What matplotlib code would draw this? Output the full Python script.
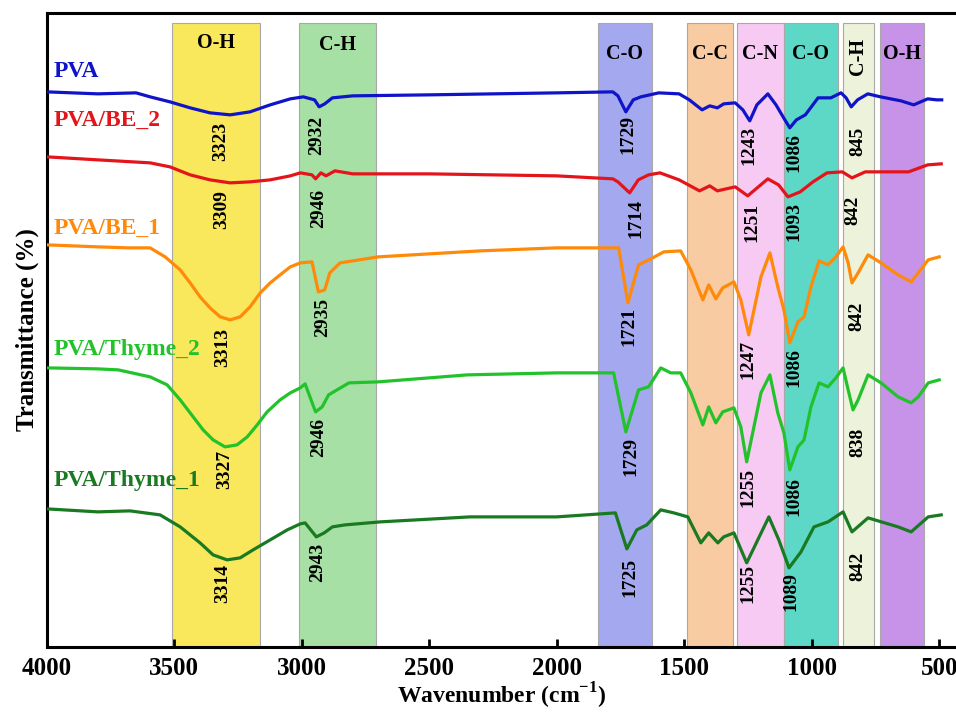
import numpy as np
import matplotlib
matplotlib.use("Agg")
import matplotlib.pyplot as plt

plt.rcParams['font.family'] = ['Liberation Serif', 'DejaVu Serif']
plt.rcParams['font.weight'] = 'bold'
plt.rcParams['mathtext.fontset'] = 'custom'
plt.rcParams['mathtext.rm'] = 'Liberation Serif:bold'
plt.rcParams['mathtext.bf'] = 'Liberation Serif:bold'

# FTIR spectra (wavenumber in cm-1, offset transmittance in a.u.)
pva_wn = [4000, 3800, 3650, 3595, 3517, 3438, 3360, 3281, 3203, 3124, 3045, 2994, 2950, 2932,
          2910, 2880, 2800, 2500, 2000, 1780, 1760, 1729, 1700, 1670, 1600, 1520, 1480, 1430,
          1400, 1370, 1345, 1300, 1270, 1243, 1215, 1172, 1140, 1110, 1086, 1060, 1025, 975,
          925, 885, 865, 845, 820, 780, 730, 650, 600, 545, 510, 490]
pva_t = [555, 553, 554, 550, 545, 539, 534, 532, 535, 542, 548, 550, 547, 540,
         543, 549, 551, 552, 554, 555, 551, 535, 547, 550, 554, 553, 547, 537,
         541, 539, 543, 544, 537, 526, 542, 553, 542, 529, 519, 527, 532, 549,
         549, 554, 549, 540, 547, 553, 550, 546, 542, 548, 547, 547]

be2_wn = [4000, 3800, 3595, 3517, 3438, 3360, 3281, 3203, 3124, 3045, 3006, 2960, 2946, 2925,
          2905, 2870, 2800, 2500, 2000, 1780, 1760, 1714, 1680, 1640, 1595, 1520, 1440, 1400,
          1370, 1300, 1251, 1172, 1130, 1093, 1045, 995, 940, 880, 842, 790, 620, 545, 492]
be2_t = [490, 487, 484, 480, 472, 467, 464, 465, 467, 471, 474, 472, 468, 474,
         471, 476, 473, 473, 471, 468, 465, 454, 467, 472, 474, 467, 456, 461,
         456, 460, 451, 468, 462, 450, 455, 465, 474, 475, 469, 475, 475, 482, 483]

be1_wn = [4000, 3800, 3680, 3595, 3536, 3477, 3438, 3399, 3360, 3320, 3281, 3242, 3203, 3163,
          3124, 3085, 3045, 3006, 2960, 2935, 2910, 2890, 2850, 2700, 2300, 2000, 1757, 1721,
          1679, 1631, 1580, 1514, 1474, 1427, 1404, 1376, 1349, 1305, 1278, 1247, 1199, 1164,
          1133, 1109, 1086, 1054, 1030, 1003, 971, 936, 905, 877, 857, 842, 818, 779, 728, 661,
          610, 582, 543, 500]
be1_t = [402, 400, 399, 399, 390, 377, 364, 350, 339, 330, 327, 330, 340, 354,
         364, 372, 380, 384, 385, 355, 357, 374, 384, 390, 396, 399, 399, 344,
         382, 388, 395, 396, 377, 347, 362, 348, 359, 365, 347, 312, 370, 394,
         360, 337, 304, 325, 330, 360, 386, 382, 390, 400, 384, 364, 374, 392, 384, 372,
         365, 374, 387, 390]

thy2_wn = [4000, 3800, 3720, 3595, 3528, 3477, 3426, 3387, 3348, 3301, 3254, 3214, 3175, 3136,
           3085, 3045, 3006, 2987, 2946, 2920, 2895, 2815, 2700, 2350, 2000, 1777, 1729, 1679,
           1640, 1592, 1553, 1514, 1474, 1427, 1404, 1376, 1349, 1305, 1278, 1255, 1199, 1164,
           1133, 1109, 1086, 1054, 1030, 1003, 971, 936, 905, 877, 857, 838, 818, 779, 728, 661,
           610, 582, 543, 500]
thy2_t = [279, 278, 277, 270, 262, 247, 230, 217, 207, 200, 202, 210, 222, 235,
          247, 254, 259, 263, 235, 240, 252, 264, 265, 272, 274, 274, 215, 257,
          260, 279, 274, 274, 254, 222, 240, 224, 235, 239, 220, 185, 254, 272,
          234, 214, 177, 200, 207, 240, 264, 260, 269, 279, 257, 237, 247, 272, 264, 250,
          244, 250, 264, 267]

thy1_wn = [4000, 3800, 3674, 3556, 3477, 3399, 3348, 3293, 3242, 3191, 3124, 3057, 3006, 2987,
           2943, 2912, 2880, 2830, 2692, 2340, 2000, 1770, 1725, 1686, 1647, 1592, 1541, 1486,
           1435, 1404, 1368, 1345, 1305, 1255, 1168, 1129, 1089, 1042, 991, 936, 877, 842, 779,
           661, 610, 543, 492]
thy1_t = [138, 135, 136, 132, 120, 104, 92, 87, 89, 97, 107, 117, 123, 124,
          110, 114, 120, 122, 125, 130, 130, 134, 98, 117, 122, 137, 134, 130,
          104, 114, 104, 110, 114, 84, 130, 107, 79, 95, 120, 125, 135, 115, 129,
          120, 115, 130, 132]

series_names = ['PVA', 'PVA/BE_2', 'PVA/BE_1', 'PVA/Thyme_2', 'PVA/Thyme_1']
series_colors = ['#0F14C8', '#E3151B', '#FF8A0A', '#22C32A', '#1A7A22']

# peak labels per series
peak_labels = [
    ['3323', '2932', '1729', '1243', '1086', '845'],
    ['3309', '2946', '1714', '1251', '1093', '842'],
    ['3313', '2935', '1721', '1247', '1086', '842'],
    ['3327', '2946', '1729', '1255', '1086', '838'],
    ['3314', '2943', '1725', '1255', '1089', '842'],
]

# functional-group bands (start, end wavenumber)
band_names = ['O-H', 'C-H', 'C-O', 'C-C', 'C-N', 'C-O', 'C-H', 'O-H']
band_lo = [3510, 3010, 1840, 1490, 1294, 1109, 877, 732]
band_hi = [3165, 2708, 1628, 1310, 1109, 897, 756, 559]
band_colors = ['#F9E75C', '#A6E0A4', '#A4A8EE', '#F8CBA3', '#F6CAF3', '#5DD8C6', '#EDF2DA', '#C693E8']

# label layout (x in cm-1, y in plot units)
peak_x = [
    [3320, 2940, 1722, 1246, 1070, 818],
    [3313, 2935, 1690, 1235, 1070, 838],
    [3309, 2920, 1718, 1250, 1070, 822],
    [3301, 2935, 1710, 1250, 1070, 818],
    [3309, 2939, 1714, 1250, 1081, 818],
]
peak_y = [
    [505, 511, 512, 501, 494, 505],
    [437, 438, 428, 424, 425, 437],
    [299, 329, 320, 287, 279, 331],
    [177, 209, 190, 159, 150, 204],
    [63, 84, 69, 63, 55, 81],
]
name_y = [575, 527, 419, 297, 166]
band_label_y = [604, 602, 593, 593, 593, 593, 590, 593]

spectra = [(pva_wn, pva_t), (be2_wn, be2_t), (be1_wn, be1_t), (thy2_wn, thy2_t), (thy1_wn, thy1_t)]

fig = plt.figure(figsize=(9.56, 7.14), dpi=100)
ax = fig.add_axes([0.049, 0.094, 0.951, 0.888])
ax.set_xlim(4000, 434)
ax.set_ylim(0, 634)

for lo, hi, c in zip(band_lo, band_hi, band_colors):
    ax.axvspan(hi, lo, ymin=0, ymax=624 / 634, facecolor=c, edgecolor='#A8A8A8', linewidth=0.8, zorder=1)

for i, name in enumerate(band_names):
    xc = (band_lo[i] + band_hi[i]) / 2
    rot = 90 if (name == 'C-H' and band_lo[i] < 1000) else 0
    ax.text(xc, band_label_y[i], name, ha='center', va='center', fontsize=14.5,
            fontweight='bold', rotation=rot, zorder=4)

for (wn, t), c in zip(spectra, series_colors):
    ax.plot(wn, t, color=c, linewidth=2.3, zorder=3, solid_joinstyle='round')

for i, name in enumerate(series_names):
    ax.text(3975, name_y[i], name, color=series_colors[i], fontsize=17, fontweight='bold',
            ha='left', va='center', zorder=4)
    for lab, px, py in zip(peak_labels[i], peak_x[i], peak_y[i]):
        ax.text(px, py, lab, rotation=90, ha='center', va='center', fontsize=14,
                fontweight='bold', zorder=4)

ax.set_xticks([4000, 3500, 3000, 2500, 2000, 1500, 1000, 500])
ax.set_yticks([])
ax.tick_params(axis='x', direction='in', length=6, width=2, labelsize=18, pad=7)
for lab in ax.get_xticklabels():
    lab.set_fontweight('bold')
ax.spines['right'].set_visible(False)
for s in ['left', 'top', 'bottom']:
    ax.spines[s].set_linewidth(2.2)

ax.set_xlabel(r'Wavenumber (cm$^{\mathbf{-1}}$)', fontsize=17, fontweight='bold', labelpad=1)
ax.set_ylabel('Transmittance (%)', fontsize=18, fontweight='bold', labelpad=6)

fig.savefig('out.png', dpi=100)
